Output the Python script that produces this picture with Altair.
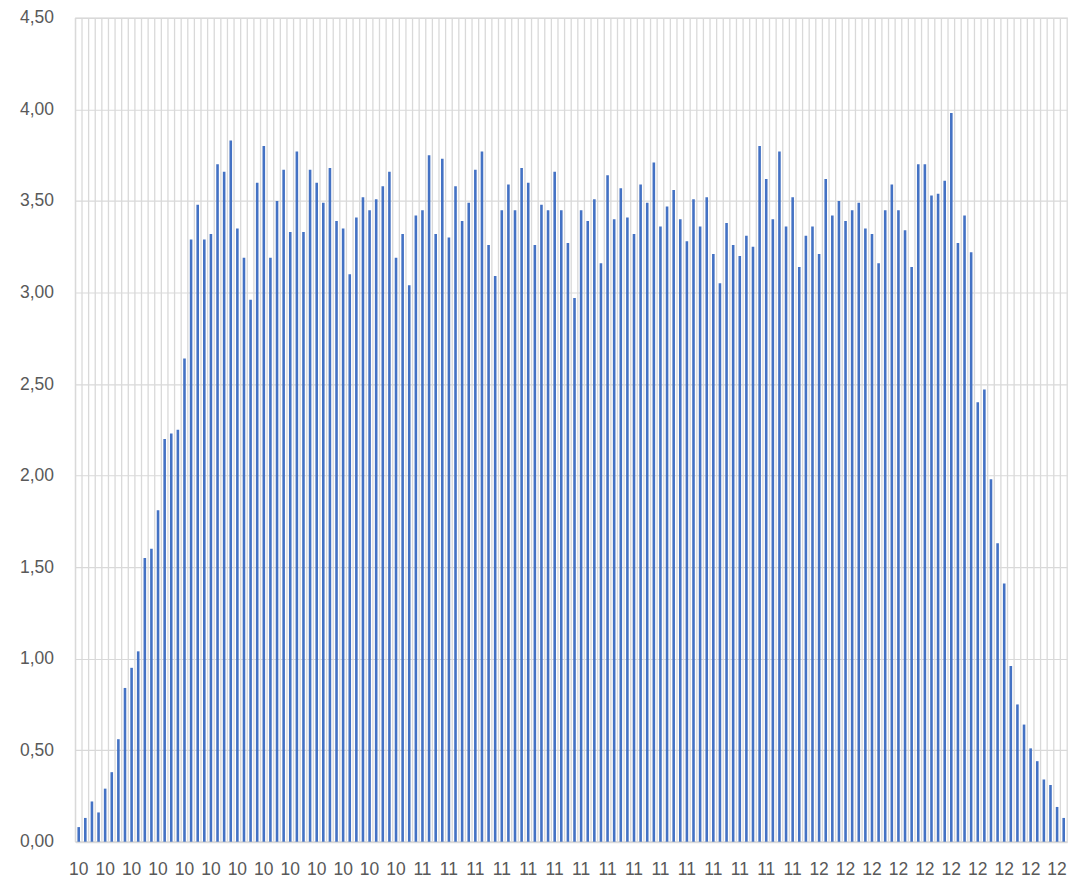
import altair as alt
import pandas as pd

# one bar per minute, starting 10:10
times = [f"{(610 + i) // 60}:{(610 + i) % 60:02d}" for i in range(150)]

values = [
    0.08, 0.13, 0.22, 0.16, 0.29, 0.38, 0.56, 0.84, 0.95, 1.04,
    1.55, 1.60, 1.81, 2.20, 2.23, 2.25, 2.64, 3.29, 3.48, 3.29,
    3.32, 3.70, 3.66, 3.83, 3.35, 3.19, 2.96, 3.60, 3.80, 3.19,
    3.50, 3.67, 3.33, 3.77, 3.33, 3.67, 3.60, 3.49, 3.68, 3.39,
    3.35, 3.10, 3.41, 3.52, 3.45, 3.51, 3.58, 3.66, 3.19, 3.32,
    3.04, 3.42, 3.45, 3.75, 3.32, 3.73, 3.30, 3.58, 3.39, 3.49,
    3.67, 3.77, 3.26, 3.09, 3.45, 3.59, 3.45, 3.68, 3.60, 3.26,
    3.48, 3.45, 3.66, 3.45, 3.27, 2.97, 3.45, 3.39, 3.51, 3.16,
    3.64, 3.40, 3.57, 3.41, 3.32, 3.59, 3.49, 3.71, 3.36, 3.47,
    3.56, 3.40, 3.28, 3.51, 3.36, 3.52, 3.21, 3.05, 3.38, 3.26,
    3.20, 3.31, 3.25, 3.80, 3.62, 3.40, 3.77, 3.36, 3.52, 3.14,
    3.31, 3.36, 3.21, 3.62, 3.42, 3.50, 3.39, 3.45, 3.49, 3.35,
    3.32, 3.16, 3.45, 3.59, 3.45, 3.34, 3.14, 3.70, 3.70, 3.53,
    3.54, 3.61, 3.98, 3.27, 3.42, 3.22, 2.40, 2.47, 1.98, 1.63,
    1.41, 0.96, 0.75, 0.64, 0.51, 0.44, 0.34, 0.31, 0.19, 0.13,
]

y_ticks = [0, 0.5, 1.0, 1.5, 2.0, 2.5, 3.0, 3.5, 4.0, 4.5]
label_times = times[::4]

df = pd.DataFrame({"t": times, "v": values})

FONT = "Liberation Sans"
GRID = "#d9d9d9"
TEXT = "#595959"

x_scale = alt.Scale(paddingInner=0, paddingOuter=0)
x_axis = alt.Axis(
    title=None, values=label_times, labelExpr="slice(datum.value, 0, 2)",
    labelAngle=0, labelOverlap=False, ticks=False, grid=False,
    domain=True, domainColor=GRID, domainWidth=2,
    labelPadding=19, labelFontSize=17.5, labelColor=TEXT, labelFont=FONT,
)
y_scale = alt.Scale(domain=[0, 4.5], nice=False)
y_axis = alt.Axis(
    title=None, values=y_ticks,
    labelExpr="replace(format(datum.value, '.2f'), '.', ',')",
    ticks=False, domain=False, grid=True, gridColor=GRID, gridWidth=1.2,
    labelPadding=22, labelFontSize=17.5, labelColor=TEXT, labelFont=FONT,
)

grid = alt.Chart(df).mark_rule(color=GRID, strokeWidth=1.3).encode(
    x=alt.X("t:O", sort=None, scale=x_scale, axis=x_axis, bandPosition=0),
)

bars = alt.Chart(df).mark_bar(color="#4472C4", size=2.6).encode(
    x=alt.X("t:O", sort=None, scale=x_scale, axis=x_axis),
    y=alt.Y("v:Q", scale=y_scale, axis=y_axis),
)

chart = (
    alt.layer(grid, bars)
    .properties(
        width=993, height=825,
        autosize=alt.AutoSizeParams(type="none"),
        padding={"left": 67.5, "top": 9.3, "right": 4, "bottom": 42},
        background="white",
    )
    .configure_view(stroke=GRID, strokeWidth=1.3)
)

chart.save("out.html", embed_options={"renderer": "svg", "actions": False})
